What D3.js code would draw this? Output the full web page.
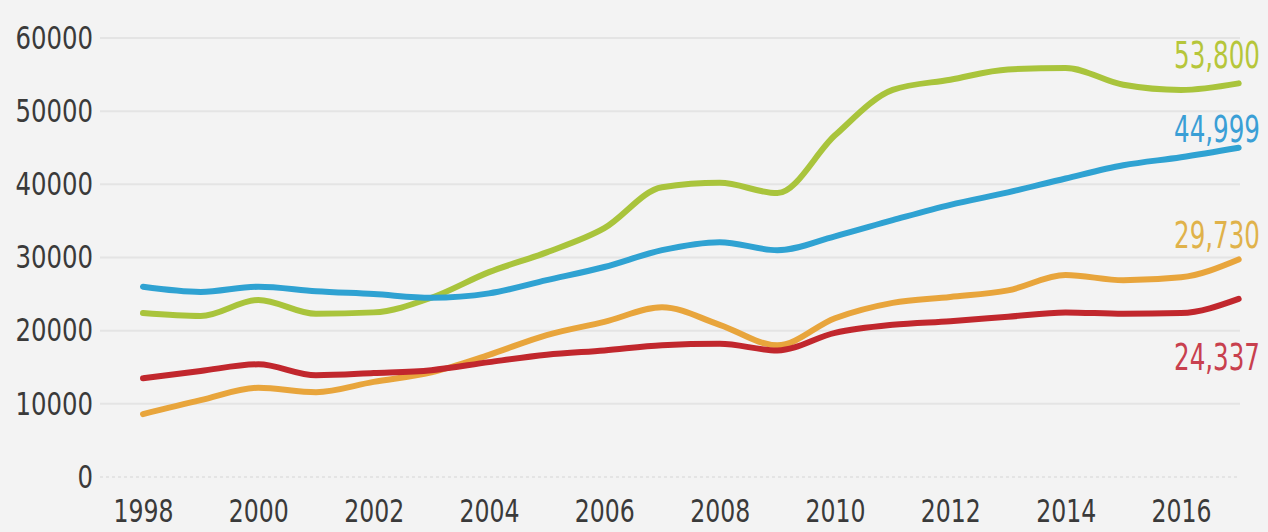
<!DOCTYPE html>
<html>
<head>
<meta charset="utf-8">
<script src="https://cdn.jsdelivr.net/npm/d3@7"></script>
<style>
  html, body { margin: 0; padding: 0; background: #f3f3f3; }
  svg { display: block; }
  text { font-family: "Liberation Sans Narrow", "DejaVu Sans Condensed", "Roboto", sans-serif; }
</style>
</head>
<body>
<svg id="chart" width="1268" height="532"></svg>
<script>
const years = d3.range(1998, 2018);
const yTicks = [0, 10000, 20000, 30000, 40000, 50000, 60000];
const xTicks = [1998, 2000, 2002, 2004, 2006, 2008, 2010, 2012, 2014, 2016];

const greenValues  = [22400, 22000, 24200, 22300, 22500, 24500, 28000, 30700, 34000, 39600, 40200, 38800, 46700, 52900, 54300, 55700, 55900, 53600, 52900, 53800];
const blueValues   = [26000, 25300, 26000, 25400, 25000, 24500, 25100, 26900, 28700, 31000, 32100, 31000, 32900, 35100, 37200, 38900, 40800, 42600, 43700, 44999];
const orangeValues = [8600, 10500, 12200, 11600, 13000, 14300, 16700, 19400, 21200, 23200, 20800, 18000, 21700, 23800, 24600, 25500, 27600, 26900, 27300, 29730];
const redValues    = [13500, 14500, 15400, 13900, 14200, 14600, 15700, 16700, 17300, 18000, 18200, 17300, 19700, 20800, 21300, 21900, 22500, 22300, 22400, 24337];

const endLabels = ["53,800", "44,999", "29,730", "24,337"];

const series = [
  { values: greenValues,  color: "#a9c43c", label: endLabels[0], labelColor: "#b6c63a", ly: 68 },
  { values: blueValues,   color: "#2fa2d2", label: endLabels[1], labelColor: "#3a9fd6", ly: 142 },
  { values: orangeValues, color: "#e8a53c", label: endLabels[2], labelColor: "#e0b24a", ly: 248 },
  { values: redValues,    color: "#c1272d", label: endLabels[3], labelColor: "#c8404e", ly: 370 }
];

const svg = d3.select("#chart");
const x = d3.scaleLinear().domain([1998, 2016]).range([143, 1181]);
const y = d3.scaleLinear().domain([0, 60000]).range([477, 38]);

// gridlines
svg.append("g").selectAll("line").data(yTicks.slice(1)).join("line")
  .attr("x1", 100).attr("x2", 1240)
  .attr("y1", d => y(d)).attr("y2", d => y(d))
  .attr("stroke", "#e4e4e4").attr("stroke-width", 2);
svg.append("line").attr("x1", 100).attr("x2", 1240).attr("y1", y(0)).attr("y2", y(0))
  .attr("stroke", "#e0e0e0").attr("stroke-width", 1.5).attr("stroke-dasharray", "3,3");

// y axis
const yAxis = d3.axisLeft(y).tickValues(yTicks).tickSize(0).tickFormat(d3.format("d"));
const yg = svg.append("g").attr("transform", "translate(96,0)").call(yAxis);
yg.select(".domain").remove();
yg.selectAll("text")
  .attr("font-size", 32).attr("fill", "#3a3a3a").attr("dx", 0)
  .attr("textLength", d => String(d).length * 15.5).attr("lengthAdjust", "spacingAndGlyphs");

// x axis
const xAxis = d3.axisBottom(x).tickValues(xTicks).tickSize(0).tickFormat(d3.format("d"));
const xg = svg.append("g").attr("transform", "translate(0,497)").call(xAxis);
xg.select(".domain").remove();
xg.selectAll("text")
  .attr("font-size", 32).attr("fill", "#3a3a3a").attr("dy", "0.7em")
  .attr("textLength", 60).attr("lengthAdjust", "spacingAndGlyphs");

// lines
const line = d3.line().x((d, i) => x(years[i])).y(d => y(d)).curve(d3.curveMonotoneX);
svg.append("g").selectAll("path").data(series).join("path")
  .attr("d", d => line(d.values))
  .attr("fill", "none").attr("stroke", d => d.color)
  .attr("stroke-width", 6).attr("stroke-linejoin", "round").attr("stroke-linecap", "round");

// end labels
svg.append("g").selectAll("text").data(series).join("text")
  .attr("x", 1260).attr("y", d => d.ly).attr("text-anchor", "end")
  .attr("font-size", 38).attr("fill", d => d.labelColor)
  .attr("textLength", 86).attr("lengthAdjust", "spacingAndGlyphs")
  .text(d => d.label);
</script>
</body>
</html>
